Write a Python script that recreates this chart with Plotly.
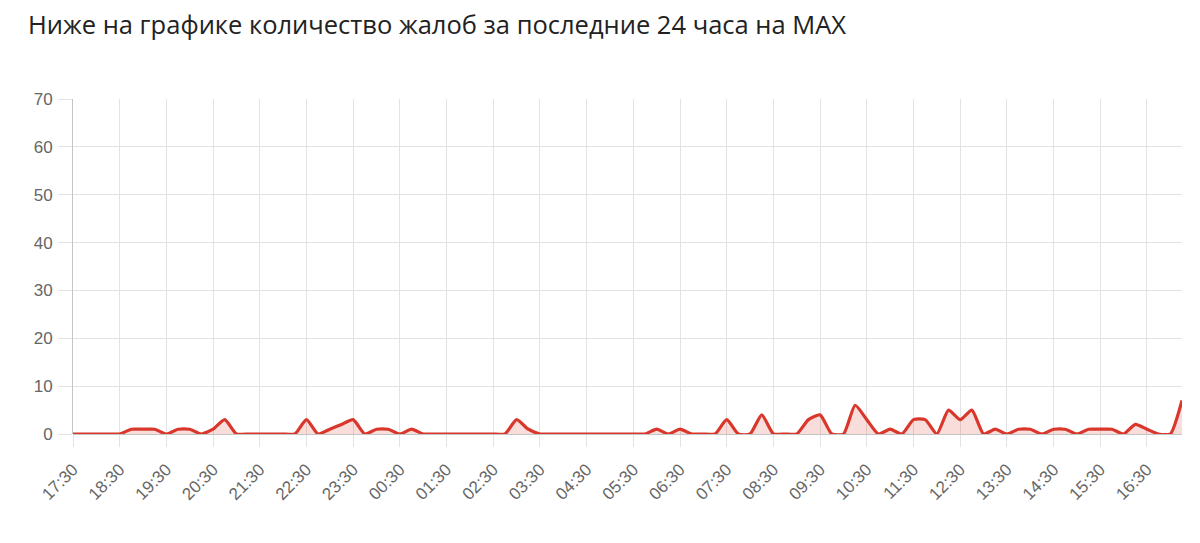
import plotly.graph_objects as go

times = [
    "17:30", "17:45", "18:00", "18:15", "18:30", "18:45", "19:00", "19:15",
    "19:30", "19:45", "20:00", "20:15", "20:30", "20:45", "21:00", "21:15",
    "21:30", "21:45", "22:00", "22:15", "22:30", "22:45", "23:00", "23:15",
    "23:30", "23:45", "00:00", "00:15", "00:30", "00:45", "01:00", "01:15",
    "01:30", "01:45", "02:00", "02:15", "02:30", "02:45", "03:00", "03:15",
    "03:30", "03:45", "04:00", "04:15", "04:30", "04:45", "05:00", "05:15",
    "05:30", "05:45", "06:00", "06:15", "06:30", "06:45", "07:00", "07:15",
    "07:30", "07:45", "08:00", "08:15", "08:30", "08:45", "09:00", "09:15",
    "09:30", "09:45", "10:00", "10:15", "10:30", "10:45", "11:00", "11:15",
    "11:30", "11:45", "12:00", "12:15", "12:30", "12:45", "13:00", "13:15",
    "13:30", "13:45", "14:00", "14:15", "14:30", "14:45", "15:00", "15:15",
    "15:30", "15:45", "16:00", "16:15", "16:30", "16:45", "17:00", "17:15",
]

complaints = [
    0, 0, 0, 0, 0, 1, 1, 1,
    0, 1, 1, 0, 1, 3, 0, 0,
    0, 0, 0, 0, 3, 0, 1, 2,
    3, 0, 1, 1, 0, 1, 0, 0,
    0, 0, 0, 0, 0, 0, 3, 1,
    0, 0, 0, 0, 0, 0, 0, 0,
    0, 0, 1, 0, 1, 0, 0, 0,
    3, 0, 0, 4, 0, 0, 0, 3,
    4, 0, 0, 6, 3, 0, 1, 0,
    3, 3, 0, 5, 3, 5, 0, 1,
    0, 1, 1, 0, 1, 1, 0, 1,
    1, 1, 0, 2, 1, 0, 0, 7,
]

y_ticks = [0, 10, 20, 30, 40, 50, 60, 70]

x_idx = list(range(len(times)))
tick_idx = [i for i, t in enumerate(times) if t.endswith(":30")]
tick_txt = [times[i] for i in tick_idx]

W, H = 1192, 535

fig = go.Figure()
fig.add_trace(go.Scatter(
    x=x_idx,
    y=complaints,
    mode="lines",
    line=dict(color="#d9372b", width=3.2, shape="spline", smoothing=0.55),
    fill="tozeroy",
    fillcolor="rgba(217,55,43,0.17)",
    hoverinfo="skip",
    showlegend=False,
))

fig.update_layout(
    width=W,
    height=H,
    paper_bgcolor="white",
    plot_bgcolor="white",
    margin=dict(l=65, r=18, t=91, b=109),
    title=dict(
        text="Ниже на графике количество жалоб за последние 24 часа на MAX",
        x=20 / W,
        xref="container",
        xanchor="left",
        y=1 - 17 / H,
        yref="container",
        yanchor="middle",
        font=dict(family="Open Sans", size=25.5, color="#222222"),
    ),
    xaxis=dict(
        range=[0, len(times) - 1],
        tickmode="array",
        tickvals=tick_idx,
        ticktext=tick_txt,
        tickangle=-45,
        showgrid=True,
        gridcolor="#e3e3e3",
        gridwidth=1,
        ticks="outside",
        ticklen=12,
        tickcolor="#e3e3e3",
        zeroline=False,
        showline=False,
        tickfont=dict(family="Liberation Sans", size=17, color="#666666"),
        ticklabelstandoff=6,
        fixedrange=True,
    ),
    yaxis=dict(
        range=[0, 70],
        tickmode="array",
        tickvals=y_ticks,
        showgrid=True,
        gridcolor="#e3e3e3",
        gridwidth=1,
        ticks="outside",
        ticklen=14,
        tickcolor="#e3e3e3",
        zeroline=True,
        zerolinecolor="#c4c4c4",
        zerolinewidth=1,
        showline=True,
        linecolor="#c4c4c4",
        linewidth=1,
        tickfont=dict(family="Liberation Sans", size=17, color="#666666"),
        ticklabelstandoff=2,
        fixedrange=True,
    ),
)

fig.write_html("out.html")
